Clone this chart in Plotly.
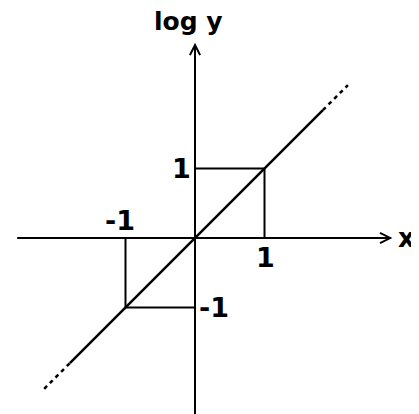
import plotly.graph_objects as go

# schematic: log y against x, line log y = x
X_MARKS = [-1, 1]            # points marked on the line
LOG_Y_MARKS = [-1, 1]
X_TICK_TEXT = ["-1", "1"]
Y_TICK_TEXT = ["-1", "1"]
SOLID_X = [-1.80, 1.84]       # extent of solid part of line
DASH_LOW_X = [-2.17, -1.80]
DASH_HIGH_X = [1.84, 2.20]
X_AXIS_EXTENT = [-2.58, 2.84]
Y_AXIS_EXTENT = [-2.60, 2.81]

UNIT = 69.5
# page body has an 8px margin, so the figure is 8px smaller than the window
W, H = 411, 406
OX, OY = 187, 230
FONT = "DejaVu Sans"

fig = go.Figure()

line_style = dict(color="black", width=2.5)
fig.add_trace(go.Scatter(x=SOLID_X, y=SOLID_X, mode="lines", line=line_style))
for seg in (DASH_LOW_X, DASH_HIGH_X):
    fig.add_trace(go.Scatter(x=seg, y=seg, mode="lines",
                             line=dict(color="black", width=2.5, dash="4px,4px")))

# projection lines from the marked points to the axes
for xv, yv in zip(X_MARKS, LOG_Y_MARKS):
    fig.add_trace(go.Scatter(x=[xv, xv, 0], y=[0, yv, yv], mode="lines",
                             line=dict(color="black", width=2)))

annotations = []
# axes drawn as arrows
annotations.append(dict(x=X_AXIS_EXTENT[1], y=0, ax=X_AXIS_EXTENT[0], ay=0,
                        xref="x", yref="y", axref="x", ayref="y", text="",
                        showarrow=True, arrowhead=5, arrowsize=1, arrowwidth=2,
                        arrowcolor="black", standoff=0, startstandoff=0))
annotations.append(dict(x=0, y=Y_AXIS_EXTENT[1], ax=0, ay=Y_AXIS_EXTENT[0],
                        xref="x", yref="y", axref="x", ayref="y", text="",
                        showarrow=True, arrowhead=5, arrowsize=1, arrowwidth=2,
                        arrowcolor="black", standoff=0, startstandoff=0))

tick_font = dict(family=FONT, size=27, color="black", weight="bold")
# x labels: -1 above the axis, 1 below
for xv, txt in zip(X_MARKS, X_TICK_TEXT):
    annotations.append(dict(x=xv, y=0, text=txt, showarrow=False, font=tick_font,
                            xshift=-6 if xv < 0 else 1,
                            yshift=18 if xv < 0 else -19))
# log y labels: 1 left of the axis, -1 right
for yv, txt in zip(LOG_Y_MARKS, Y_TICK_TEXT):
    annotations.append(dict(x=0, y=yv, text=txt, showarrow=False, font=tick_font,
                            xshift=19 if yv < 0 else -14,
                            yshift=0))

annotations.append(dict(x=0, y=3.11, text="log y", showarrow=False, xshift=-7,
                        font=dict(family=FONT, size=25, color="black", weight="bold")))
annotations.append(dict(x=3.036, y=0, text="x", showarrow=False, yshift=0,
                        font=dict(family=FONT, size=26, color="black", weight="bold")))

fig.update_layout(
    width=W, height=H,
    margin=dict(l=0, r=0, t=0, b=0),
    paper_bgcolor="white", plot_bgcolor="white",
    showlegend=False,
    annotations=annotations,
)
fig.update_xaxes(range=[-OX / UNIT, (W - OX) / UNIT], visible=False)
fig.update_yaxes(range=[(OY - H) / UNIT, OY / UNIT], visible=False)

fig.write_html("out.html", config={"displayModeBar": False})
